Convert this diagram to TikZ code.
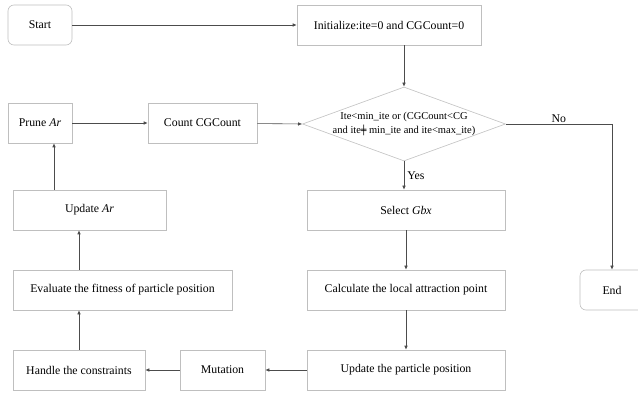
\documentclass[tikz,border=0pt]{standalone}
\usepackage{fontspec}
\setmainfont{Liberation Serif}
\newfontfamily\symfont{DejaVu Sans}
\usetikzlibrary{arrows.meta,shapes.geometric}
\begin{document}
\begin{tikzpicture}[x=1pt,y=-1pt,
  box/.style={draw=black!25,line width=0.6pt,rectangle,inner sep=0pt,font=\fontsize{11.8}{14}\selectfont},
  rbox/.style={box,rounded corners=6pt},
  conn/.style={draw=black!70,line width=0.6pt,-{Latex[length=4pt,width=3.5pt]}},
  lbl/.style={font=\fontsize{11.8}{14}\selectfont,inner sep=1pt}]
\useasboundingbox (0,0) rectangle (638,393);
% nodes
\node[rbox,minimum width=64pt,minimum height=40pt] (start) at (40,25) {Start};
\node[box,minimum width=184pt,minimum height=40pt] (init) at (389,25) {Initialize:ite=0 and CGCount=0};
\node[diamond,draw=black!25,line width=0.6pt,minimum width=203pt,minimum height=74pt,inner sep=0pt,shape aspect=2.74] (cond) at (404,124) {};
\node[align=center,font=\fontsize{10.5}{13.5}\selectfont] (condtext) at (404,124) {Ite<min\_ite or (CGCount<CG\\and ite{\symfont\fontsize{9}{11}\selectfont ╪} min\_ite and ite<max\_ite)};
\node[box,minimum width=64pt,minimum height=40pt] (prune) at (40,123) {Prune \textit{Ar}};
\node[box,minimum width=109pt,minimum height=40pt] (count) at (202.5,123) {Count CGCount};
\node[box,minimum width=153pt,minimum height=40pt] (updar) at (89.5,210) {Update \textit{Ar}};
\node[box,minimum width=219pt,minimum height=40pt] (eval) at (122.5,290) {Evaluate the fitness of particle position};
\node[box,minimum width=132pt,minimum height=40pt] (handle) at (79,370) {Handle the constraints};
\node[box,minimum width=85pt,minimum height=40pt] (mut) at (222.5,370) {Mutation};
\node[box,minimum width=198pt,minimum height=40pt] (select) at (406,210) {Select \textit{Gbx}};
\node[box,minimum width=198pt,minimum height=40pt] (calc) at (406,290) {Calculate the local attraction point};
\node[box,minimum width=198pt,minimum height=40pt] (updpos) at (406,370) {Update the particle position};
\node[rbox,minimum width=64pt,minimum height=40pt] (end) at (612,290) {End};
\coordinate (corner) at (612,124);
% connectors
\draw[conn] (start) -- (init);
\draw[conn] (init.south -| cond.north) -- (cond.north);
\draw[conn] (cond.south) -- (select.north -| cond.south) node[lbl,midway,right,xshift=2pt] {Yes};
\draw[conn] (select) -- (calc);
\draw[conn] (calc) -- (updpos);
\draw[conn] (updpos) -- (mut);
\draw[conn] (mut) -- (handle);
\draw[conn] (handle.north) -- (eval.south -| handle.north);
\draw[conn] (eval.north -| handle.north) -- (updar.south -| handle.north);
\draw[conn] (updar.north -| 54,0) -- (prune.south -| 54,0);
\draw[conn] (prune) -- (count);
\draw[conn] (count) -- (cond.west);
\draw[draw=black!70,line width=0.6pt] (cond.east) -- (corner) node[lbl,midway,above] {No};
\draw[conn] (corner) -- (end.north);
\end{tikzpicture}
\end{document}
